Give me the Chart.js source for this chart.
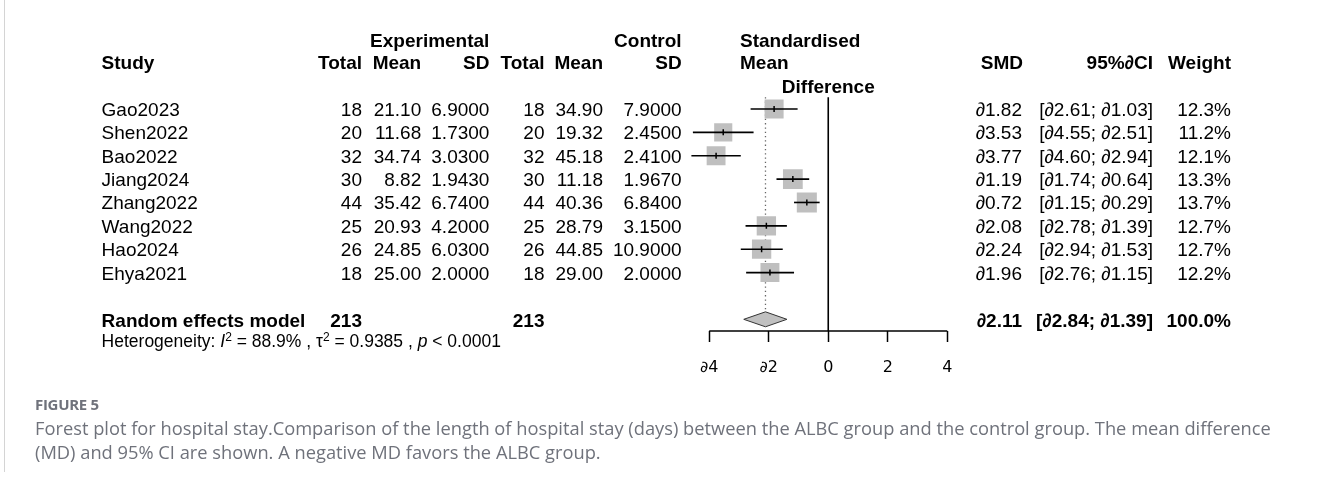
<!DOCTYPE html>
<html>
<head>
<meta charset="utf-8">
<script src="https://cdn.jsdelivr.net/npm/chart.js@4.4.0/dist/chart.umd.min.js"></script>
<style>
html, body { margin: 0; padding: 0; background: #fff; }
#wrap { position: relative; width: 1328px; height: 477px; overflow: hidden; }
#plot { position: absolute; left: 0; top: 0; }
.t { position: absolute; white-space: nowrap; font-family: "Liberation Sans", Arial, sans-serif;
     font-size: 19px; line-height: 22px; height: 22px; color: #000; }
.b { font-weight: bold; }
.het { font-size: 17.5px; }
.het sup { font-size: 12px; vertical-align: 6px; line-height: 0; }
#edge { position: absolute; left: 4px; top: 0; width: 1px; height: 472px; background: #d4d4d4; }
.fig { position: absolute; left: 35px; font-family: "Open Sans", Lato, sans-serif; color: #6f727b; white-space: nowrap; }
#figno { top: 395px; font-size: 15px; font-weight: bold; line-height: 18px; letter-spacing: -0.3px; }
#figtxt { top: 416px; font-size: 18.3px; line-height: 24px; }
</style>
</head>
<body>
<div id="wrap">
  <div id="edge"></div>
  <canvas id="plot" width="1328" height="477"></canvas>
  <div class="fig" id="figno">FIGURE 5</div>
  <div class="fig" id="figtxt">Forest plot for hospital stay.Comparison of the length of hospital stay (days) between the ALBC group and the control group. The mean difference<br>(MD) and 95% CI are shown. A negative MD favors the ALBC group.</div>
</div>
<script>
// --- Data dari gambar ---
const studies = ['Gao2023', 'Shen2022', 'Bao2022', 'Jiang2024', 'Zhang2022', 'Wang2022', 'Hao2024', 'Ehya2021'];
const expTotal = [18, 20, 32, 30, 44, 25, 26, 18];
const expMean = [21.10, 11.68, 34.74, 8.82, 35.42, 20.93, 24.85, 25.00];
const expSD = [6.9, 1.73, 3.03, 1.943, 6.74, 4.2, 6.03, 2.0];
const ctrlTotal = [18, 20, 32, 30, 44, 25, 26, 18];
const ctrlMean = [34.90, 19.32, 45.18, 11.18, 40.36, 28.79, 44.85, 29.00];
const ctrlSD = [7.9, 2.45, 2.41, 1.967, 6.84, 3.15, 10.9, 2.0];
const smd = [-1.82, -3.53, -3.77, -1.19, -0.72, -2.08, -2.24, -1.96];
const ciLow = [-2.61, -4.55, -4.60, -1.74, -1.15, -2.78, -2.94, -2.76];
const ciHigh = [-1.03, -2.51, -2.94, -0.64, -0.29, -1.39, -1.53, -1.15];
const weight = [12.3, 11.2, 12.1, 13.3, 13.7, 12.7, 12.7, 12.2];

const pooledLabel = 'Random effects model';
const pooledExpN = 213;
const pooledCtrlN = 213;
const pooledSmd = -2.11;
const pooledLow = -2.84;
const pooledHigh = -1.39;
const pooledWeight = 100.0;
const hetI2 = '88.9%';
const hetTau2 = '0.9385';
const hetP = '< 0.0001';

const xTicks = [-4, -2, 0, 2, 4];

const W = 1328;
const wrap = document.getElementById('wrap');
const pooledRow = studies.length + 2;

// minus sign in the figure shows as ∂
const fmtNum = (v, d) => (v < 0 ? '∂' : '') + Math.abs(v).toFixed(d);

function put(txt, x, y, align, cls) {
    const d = document.createElement('div');
    d.className = 't ' + (cls || '');
    d.innerHTML = txt;
    d.style.top = (y - 11) + 'px';
    if (align === 'right') {
        d.style.right = (W - x) + 'px';
    } else if (align === 'center') {
        d.style.left = x + 'px';
        d.style.transform = 'translateX(-50%)';
    } else {
        d.style.left = x + 'px';
    }
    wrap.appendChild(d);
}

// --- datasets ---
const lineStyle = { type: 'line', showLine: true, pointRadius: 0, borderColor: '#000', borderWidth: 1.6, fill: false, clip: false, tension: 0 };

const datasets = [];

// squares
datasets.push({
    type: 'scatter',
    order: 5,
    data: smd.map((v, i) => ({ x: v, y: i + 1 })),
    pointStyle: 'rect',
    pointRadius: weight.map(w => 5.42 * Math.sqrt(w) / Math.SQRT2),
    backgroundColor: '#bfbfbf',
    borderColor: '#bfbfbf',
    borderWidth: 0
});

// CI lines
studies.forEach((s, i) => {
    datasets.push(Object.assign({}, lineStyle, {
        order: 3,
        data: [{ x: ciLow[i], y: i + 1 }, { x: ciHigh[i], y: i + 1 }]
    }));
});

// estimate tick
datasets.push({
    type: 'scatter',
    order: 1,
    data: smd.map((v, i) => ({ x: v, y: i + 1 })),
    pointStyle: 'line',
    rotation: 90,
    pointRadius: 3,
    borderColor: '#000',
    borderWidth: 1.5
});

// pooled diamond
datasets.push(Object.assign({}, lineStyle, {
    order: 2,
    data: [
        { x: pooledLow, y: pooledRow },
        { x: pooledSmd, y: pooledRow - 0.32 },
        { x: pooledHigh, y: pooledRow },
        { x: pooledSmd, y: pooledRow + 0.32 },
        { x: pooledLow, y: pooledRow }
    ],
    fill: 'shape',
    backgroundColor: '#c0c0c0',
    borderColor: '#333',
    borderWidth: 1
}));

// no-effect line
datasets.push(Object.assign({}, lineStyle, {
    order: 6,
    data: [{ x: 0, y: 0.5 }, { x: 0, y: pooledRow + 0.5 }]
}));

// dotted pooled line
datasets.push(Object.assign({}, lineStyle, {
    order: 7,
    data: [{ x: pooledSmd, y: 0.5 }, { x: pooledSmd, y: pooledRow - 0.32 }],
    borderColor: '#666',
    borderWidth: 1.3,
    borderDash: [1.3, 3]
}));

// axis line
datasets.push(Object.assign({}, lineStyle, {
    order: 4,
    data: [{ x: xTicks[0], y: pooledRow + 0.5 }, { x: xTicks[xTicks.length - 1], y: pooledRow + 0.5 }]
}));

const chart = new Chart(document.getElementById('plot'), {
    type: 'scatter',
    data: { datasets: datasets },
    options: {
        responsive: false,
        animation: false,
        layout: { padding: { left: 679.5, right: 351, top: 97.3, bottom: 86 } },
        plugins: { legend: { display: false }, tooltip: { enabled: false } },
        scales: {
            x: {
                type: 'linear',
                min: -5,
                max: 5,
                afterBuildTicks: (scale) => { scale.ticks = xTicks.map(v => ({ value: v })); },
                afterFit: (scale) => { scale.height = 60; },
                border: { display: false },
                grid: { drawOnChartArea: false, drawTicks: true, tickLength: 11, tickColor: '#000', tickWidth: 1.5 },
                ticks: {
                    padding: 16,
                    color: '#000',
                    font: { family: 'DejaVu Sans', size: 16 },
                    callback: (v) => (v < 0 ? '∂' + Math.abs(v) : String(v))
                }
            },
            y: { type: 'linear', min: 0.5, max: pooledRow + 0.5, reverse: true, display: false }
        }
    }
});

// --- table text ---
const yS = chart.scales.y;
const rowY = (r) => yS.getPixelForValue(r) + 1;

const colStudy = 101.6;
const colExpTotal = 362, colExpMean = 421.2, colExpSD = 489.4;
const colCtrlTotal = 544.5, colCtrlMean = 603, colCtrlSD = 681.6;
const colSmd = 1022, colCI = 1153, colW = 1231;

put('Experimental', colExpSD, 40.7, 'right', 'b');
put('Control', colCtrlSD, 40.7, 'right', 'b');
put('Standardised', 740, 40.7, 'left', 'b');
put('Study', colStudy, 63, 'left', 'b');
put('Total', colExpTotal, 63, 'right', 'b');
put('Mean', colExpMean, 63, 'right', 'b');
put('SD', colExpSD, 63, 'right', 'b');
put('Total', colCtrlTotal, 63, 'right', 'b');
put('Mean', colCtrlMean, 63, 'right', 'b');
put('SD', colCtrlSD, 63, 'right', 'b');
put('Mean', 740, 63, 'left', 'b');
put('Difference', 828.3, 86.7, 'center', 'b');
put('SMD', colSmd + 1, 63, 'right', 'b');
put('95%∂CI', colCI, 63, 'right', 'b');
put('Weight', colW, 63, 'right', 'b');

studies.forEach((s, i) => {
    const y = rowY(i + 1);
    put(s, colStudy, y, 'left');
    put(String(expTotal[i]), colExpTotal, y, 'right');
    put(expMean[i].toFixed(2), colExpMean, y, 'right');
    put(expSD[i].toFixed(4), colExpSD, y, 'right');
    put(String(ctrlTotal[i]), colCtrlTotal, y, 'right');
    put(ctrlMean[i].toFixed(2), colCtrlMean, y, 'right');
    put(ctrlSD[i].toFixed(4), colCtrlSD, y, 'right');
    put(fmtNum(smd[i], 2), colSmd, y, 'right');
    put('[' + fmtNum(ciLow[i], 2) + '; ' + fmtNum(ciHigh[i], 2) + ']', colCI, y, 'right');
    put(weight[i].toFixed(1) + '%', colW, y, 'right');
});

const yp = rowY(pooledRow) + 1;
put(pooledLabel, colStudy, yp, 'left', 'b');
put(String(pooledExpN), colExpTotal, yp, 'right', 'b');
put(String(pooledCtrlN), colCtrlTotal, yp, 'right', 'b');
put(fmtNum(pooledSmd, 2), colSmd, yp, 'right', 'b');
put('[' + fmtNum(pooledLow, 2) + '; ' + fmtNum(pooledHigh, 2) + ']', colCI, yp, 'right', 'b');
put(pooledWeight.toFixed(1) + '%', colW, yp, 'right', 'b');

put('Heterogeneity: <i>I</i><sup>2</sup> = ' + hetI2 + ' , τ<sup>2</sup> = ' + hetTau2 + ' , <i>p</i> ' + hetP.replace('<', '&lt;'),
    colStudy, 341, 'left', 'het');
</script>
</body>
</html>
